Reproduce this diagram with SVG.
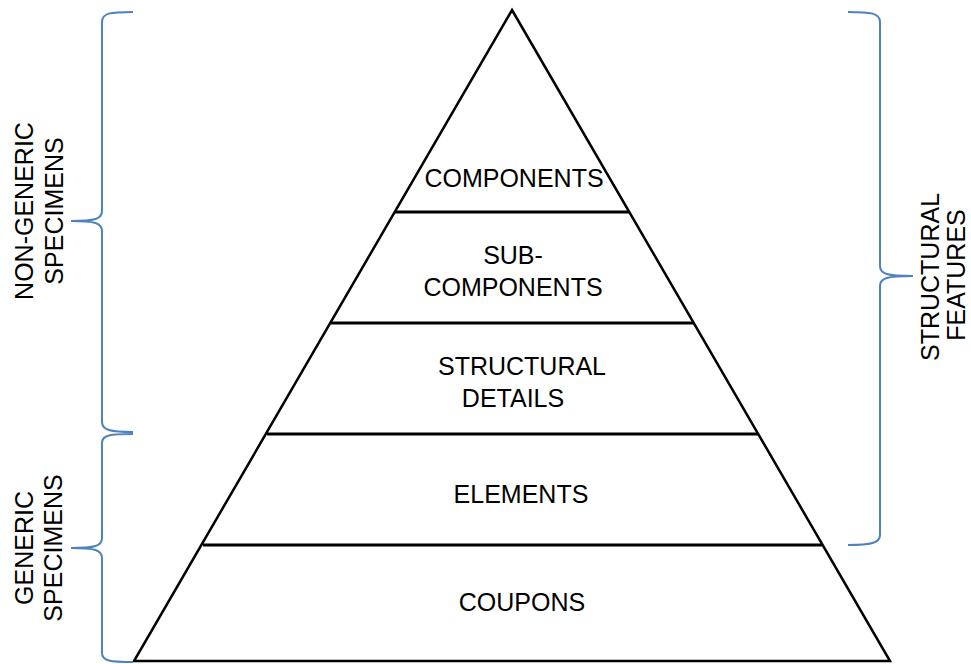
<svg xmlns="http://www.w3.org/2000/svg" width="971" height="664" viewBox="0 0 971 664">
<style>
.bg{fill:#ffffff}
.tri{fill:none;stroke:#000;stroke-width:2.5;stroke-linejoin:miter}
.div{stroke:#000;stroke-width:3}
.brace{fill:none;stroke:#4F81BD;stroke-width:2}
.t{font-family:"Liberation Sans",Arial,sans-serif;font-size:25px;fill:#000;text-anchor:middle}
</style>
<rect class="bg" x="0" y="0" width="971" height="664"/>
<g id="pyramid">
<polygon class="tri" points="512,10 890,661 134,661"/>
</g>
<g id="connectors">
<line class="div" x1="395" y1="212" x2="629" y2="212"/>
<line class="div" x1="331" y1="323" x2="694" y2="323"/>
<line class="div" x1="267" y1="434" x2="758" y2="434"/>
<line class="div" x1="203" y1="545" x2="822" y2="545"/>
</g>
<g id="components"><text class="t" x="514" y="187">COMPONENTS</text></g>
<g id="sub-components"><text class="t" x="513" y="264">SUB-</text><text class="t" x="513" y="296">COMPONENTS</text></g>
<g id="structural-details"><text class="t" x="522" y="375">STRUCTURAL</text><text class="t" x="513" y="407">DETAILS</text></g>
<g id="elements"><text class="t" x="521" y="503">ELEMENTS</text></g>
<g id="coupons"><text class="t" x="522" y="611">COUPONS</text></g>
<g id="brace-non-generic">
<path class="brace" d="M133,12 C110,12 102,13 102,22 L102,211 C102,219 95,221 71,221 C95,221 102,223 102,231 L102,422 C102,430 110,432 133,432"/>
<text class="t" transform="translate(33,211) rotate(-90)">NON-GENERIC</text>
<text class="t" transform="translate(63,211) rotate(-90)">SPECIMENS</text>
</g>
<g id="brace-generic">
<path class="brace" d="M133,434 C110,434 102,435 102,443 L102,538 C102,546 95,548 71,548 C95,548 102,550 102,558 L102,653 C102,661 110,662 133,662"/>
<text class="t" transform="translate(33,548) rotate(-90)">GENERIC</text>
<text class="t" transform="translate(62,548) rotate(-90)">SPECIMENS</text>
</g>
<g id="brace-structural">
<path class="brace" d="M848,12 C871,12 880,13 880,22 L880,266 C880,274 887,276 913,276 C887,276 880,278 880,286 L880,535 C880,543 871,545 848,545"/>
<text class="t" transform="translate(939,277) rotate(-90)">STRUCTURAL</text>
<text class="t" transform="translate(965,275) rotate(-90)">FEATURES</text>
</g>
</svg>
